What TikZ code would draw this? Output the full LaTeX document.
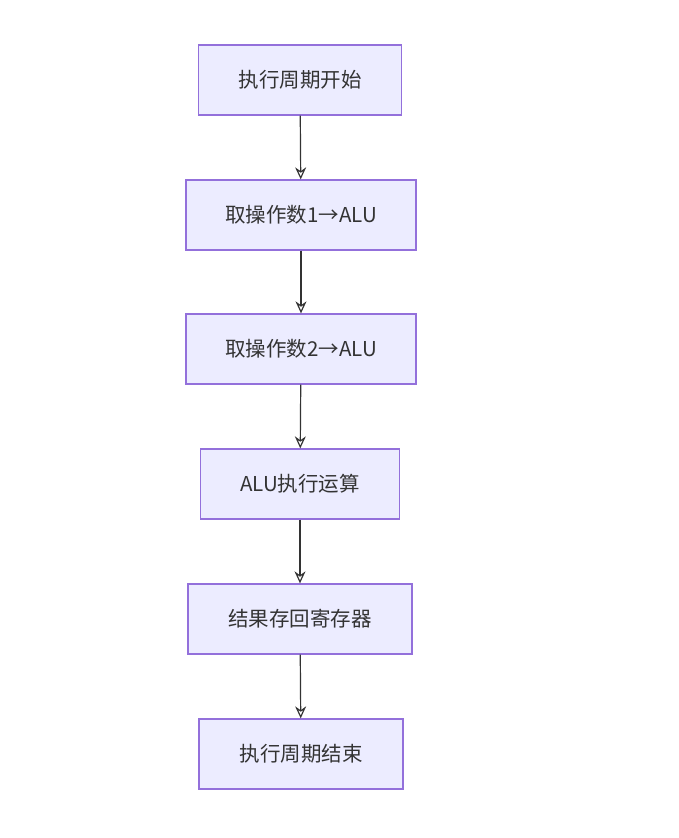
\documentclass[tikz,border=0pt]{standalone}
\usepackage{fontspec}
\newfontfamily\cjk{Noto Sans CJK SC}
\usetikzlibrary{arrows.meta}
\definecolor{boxfill}{HTML}{ECECFF}
\definecolor{boxline}{HTML}{9370DB}
\definecolor{ink}{HTML}{333333}
\tikzset{
  stepnode/.style={draw=boxline, fill=boxfill, line width=1.3pt, minimum height=70pt,
    text=ink, font=\cjk\fontsize{20.5}{22}\selectfont},
  flow/.style={draw=ink, line width=1.2pt, -{Stealth[length=12pt,width=11pt,open]}}
}
\begin{document}
\begin{tikzpicture}[x=1pt, y=-1pt]
          \useasboundingbox (0,0) rectangle (679,838);
          \node[stepnode, minimum width=203pt] (start) at (300,80) {执行周期开始};
          \node[stepnode, minimum width=230pt] (fetchA) at (301,215) {取操作数1→ALU};
          \node[stepnode, minimum width=230pt] (fetchB) at (301,349) {取操作数2→ALU};
          \node[stepnode, minimum width=199pt] (alu) at (300,484) {ALU执行运算};
          \node[stepnode, minimum width=224pt] (store) at (300,619) {结果存回寄存器};
          \node[stepnode, minimum width=204pt] (stop) at (301,754) {执行周期结束};
          \draw[flow] (start) -- (fetchA);
          \draw[flow] (fetchA) -- (fetchB);
          \draw[flow] (fetchB) -- (alu);
          \draw[flow] (alu) -- (store);
          \draw[flow] (store) -- (stop);
      \end{tikzpicture}
\end{document}
